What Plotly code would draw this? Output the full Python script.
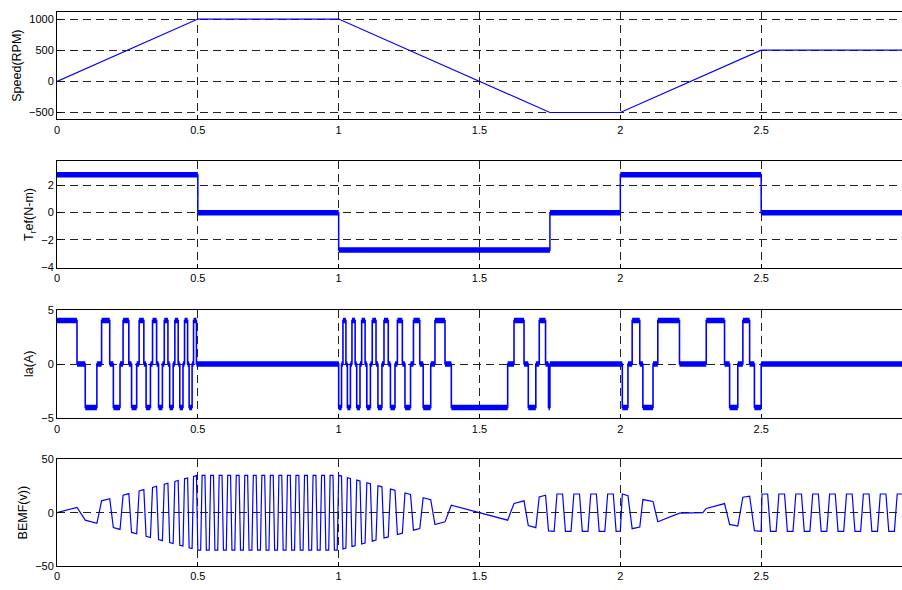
import plotly.graph_objects as go

# ---------------- data ----------------
speed_t = [0, 0.5, 1.0, 1.75, 2.0, 2.5, 3.0]
speed_rpm = [0, 1000, 1000, -500, -500, 500, 500]

torque_t = [0, 0.5, 1.0, 1.75, 2.0, 2.5, 3.0]
torque_lvl = [2.8, 0.0, -2.75, 0.0, 2.8, 0.0]

ia_t = [0.0, 0.0710, 0.1003, 0.1416, 0.1583, 0.1872, 0.2001, 0.2237,
        0.2346, 0.2550, 0.2647, 0.2829, 0.2916, 0.3083, 0.3163, 0.3317,
        0.3392, 0.3536, 0.3606, 0.3742, 0.3809, 0.3938, 0.4001, 0.4124,
        0.4184, 0.4302, 0.4359, 0.4473, 0.4528, 0.4637, 0.4691, 0.4796,
        0.4848, 0.4950,
        1.0000, 1.0101, 1.0152, 1.0257, 1.0310, 1.0417, 1.0472, 1.0584,
        1.0641, 1.0757, 1.0817, 1.0938, 1.1000, 1.1127, 1.1192, 1.1326,
        1.1394, 1.1536, 1.1609, 1.1760, 1.1838, 1.2000, 1.2085, 1.2261,
        1.2354, 1.2551, 1.2655, 1.2879, 1.3000, 1.3268, 1.3419, 1.3775,
        1.4000, 1.6000, 1.6225, 1.6581, 1.6732, 1.7000, 1.7121, 1.7345,
        1.7450, 1.7500,
        2.0070, 2.0270, 2.0420, 2.0690, 2.0800, 2.1160, 2.1330, 2.2100,
        2.3050, 2.3700, 2.3880, 2.4170, 2.4350, 2.4590, 2.4760, 2.5000,
        3.0]
ia_lvl = [4, 0, -4, 0, 4, 0, -4, 0,
          4, 0, -4, 0, 4, 0, -4, 0,
          4, 0, -4, 0, 4, 0, -4, 0,
          4, 0, -4, 0, 4, 0, -4, 0,
          4, 0,
          -4, 0, 4, 0, -4, 0, 4, 0,
          -4, 0, 4, 0, -4, 0, 4, 0,
          -4, 0, 4, 0, -4, 0, 4, 0,
          -4, 0, 4, 0, -4, 0, 4, 0,
          -4, 0, 4, 0, -4, 0, 4, 0,
          -4, 0,
          -4, 0, 4, 0, -4, 0, 4, 0,
          4, 0, -4, 0, 4, 0, -4, 0]

bemf_t = [0.0, 0.0710, 0.1003, 0.1416, 0.1583, 0.1872, 0.2001, 0.2237,
          0.2346, 0.2550, 0.2647, 0.2829, 0.2916, 0.3083, 0.3163, 0.3317,
          0.3392, 0.3536, 0.3606, 0.3742, 0.3809, 0.3938, 0.4001, 0.4124,
          0.4184, 0.4302, 0.4359, 0.4473, 0.4528, 0.4637, 0.4691, 0.4796,
          0.4848, 0.4950,
          0.5000, 0.5101, 0.5152, 0.5253, 0.5303, 0.5404, 0.5455, 0.5556,
          0.5606, 0.5707, 0.5758, 0.5859, 0.5909, 0.6010, 0.6061, 0.6162,
          0.6212, 0.6313, 0.6364, 0.6465, 0.6515, 0.6616, 0.6667, 0.6768,
          0.6818, 0.6919, 0.6970, 0.7071, 0.7121, 0.7222, 0.7273, 0.7374,
          0.7424, 0.7525, 0.7576, 0.7677, 0.7727, 0.7828, 0.7879, 0.7980,
          0.8030, 0.8131, 0.8182, 0.8283, 0.8333, 0.8434, 0.8485, 0.8586,
          0.8636, 0.8737, 0.8788, 0.8889, 0.8939, 0.9040, 0.9091, 0.9192,
          0.9242, 0.9343, 0.9394, 0.9495, 0.9545, 0.9646, 0.9697, 0.9798,
          0.9848, 0.9949,
          1.0000, 1.0101, 1.0152, 1.0257, 1.0310, 1.0417, 1.0472, 1.0584,
          1.0641, 1.0757, 1.0817, 1.0938, 1.1000, 1.1127, 1.1192, 1.1326,
          1.1394, 1.1536, 1.1609, 1.1760, 1.1838, 1.2000, 1.2085, 1.2261,
          1.2354, 1.2551, 1.2655, 1.2879, 1.3000, 1.3268, 1.3419, 1.3775,
          1.4000, 1.6000, 1.6225, 1.6581, 1.6732, 1.7000, 1.7121, 1.7345,
          1.7450,
          1.7650, 1.7750, 1.7950, 1.8050, 1.8250, 1.8350, 1.8550, 1.8650,
          1.8850, 1.8950, 1.9150, 1.9250, 1.9450, 1.9550, 1.9750, 1.9850,
          2.0000, 2.0070, 2.0270, 2.0420, 2.0690, 2.0800, 2.1160, 2.1330,
          2.2100, 2.2930, 2.3050, 2.3700, 2.3880, 2.4170, 2.4350, 2.4590,
          2.4760, 2.5000,
          2.503, 2.523, 2.533, 2.553, 2.563, 2.583, 2.593, 2.613,
          2.623, 2.643, 2.653, 2.673, 2.683, 2.703, 2.713, 2.733,
          2.743, 2.763, 2.773, 2.793, 2.803, 2.823, 2.833, 2.853,
          2.863, 2.883, 2.893, 2.913, 2.923, 2.943, 2.953, 2.973,
          2.983, 3.000]
bemf_v = [0.0, 5.0, -7.0, -9.9, 11.1, 13.1, -14.0, -15.7,
          16.4, 17.9, -18.5, -19.8, 20.4, 21.6, -22.1, -23.2,
          23.7, 24.8, -25.2, -26.2, 26.7, 27.6, -28.0, -28.9,
          29.3, 30.1, -30.5, -31.3, 31.7, 32.5, -32.8, -33.6,
          33.9, 34.7,
          -35, -35, 35, 35, -35, -35, 35, 35,
          -35, -35, 35, 35, -35, -35, 35, 35,
          -35, -35, 35, 35, -35, -35, 35, 35,
          -35, -35, 35, 35, -35, -35, 35, 35,
          -35, -35, 35, 35, -35, -35, 35, 35,
          -35, -35, 35, 35, -35, -35, 35, 35,
          -35, -35, 35, 35, -35, -35, 35, 35,
          -35, -35, 35, 35, -35, -35, 35, 35,
          -35, -35,
          35.0, 34.3, -33.9, -33.2, 32.8, 32.1, -31.7, -30.9,
          30.5, 29.7, -29.3, -28.4, 28.0, 27.1, -26.7, -25.7,
          25.2, 24.2, -23.7, -22.7, 22.1, 21.0, -20.4, -19.2,
          18.5, 17.1, -16.4, -14.8, 14.0, 12.1, -11.1, -8.6,
          7.0, -7.0, 8.6, 11.1, -12.1, -14.0, 14.8, 16.4,
          -17.1,
          -17.5, 17.5, 17.5, -17.5, -17.5, 17.5, 17.5, -17.5,
          -17.5, 17.5, 17.5, -17.5, -17.5, 17.5, 17.5, -17.5,
          -17.3, 17.5, 16.0, -15.0, -13.5, 12.3, 10.5, -8.5,
          -0.5, 0.0, 4.0, 8.5, -11.0, -12.5, 14.5, 15.5,
          -16.8, -17.5,
          17.5, 17.5, -17.5, -17.5, 17.5, 17.5, -17.5, -17.5,
          17.5, 17.5, -17.5, -17.5, 17.5, 17.5, -17.5, -17.5,
          17.5, 17.5, -17.5, -17.5, 17.5, 17.5, -17.5, -17.5,
          17.5, 17.5, -17.5, -17.5, 17.5, 17.5, -17.5, -17.5,
          17.5, 17.5]

x_ticks = [0, 0.5, 1, 1.5, 2, 2.5]
x_tick_text = ["0", "0.5", "1", "1.5", "2", "2.5"]
y_titles = ["Speed(RPM)", "T<sub>r</sub>ef(N-m)", "Ia(A)", "BEMF(v))"]
y_ticks = [[-500, 0, 500, 1000], [-4, -2, 0, 2], [-5, 0, 5], [-50, 0, 50]]
y_ranges = [[-610, 1115], [-4.07, 3.8], [-5, 5], [-50, 50]]

# ---------------- helpers ----------------
BLUE = "#0000FF"


def step_xy(t, lvl):
    return list(t), list(lvl) + [lvl[-1]]


def band_xy(t, lvl):
    xs, ys = [], []
    for i, v in enumerate(lvl):
        xs += [t[i], t[i + 1], None]
        ys += [v, v, None]
    return xs, ys


W, H = 902, 590
panels_px = [(6, 115.7), (158.3, 267.3), (310, 421), (462.7, 571.7)]

fig = go.Figure()

# Speed
fig.add_trace(go.Scatter(x=speed_t, y=speed_rpm, mode="lines",
                         line=dict(color=BLUE, width=1.2), xaxis="x", yaxis="y"))
# Torque
sx, sy = step_xy(torque_t, torque_lvl)
fig.add_trace(go.Scatter(x=sx, y=sy, mode="lines", line_shape="hv",
                         line=dict(color=BLUE, width=1.5), xaxis="x2", yaxis="y2"))
bx, by = band_xy(torque_t, torque_lvl)
fig.add_trace(go.Scatter(x=bx, y=by, mode="lines",
                         line=dict(color=BLUE, width=5.5), xaxis="x2", yaxis="y2"))
# Current
sx, sy = step_xy(ia_t, ia_lvl)
fig.add_trace(go.Scatter(x=sx, y=sy, mode="lines", line_shape="hv",
                         line=dict(color=BLUE, width=1.6), xaxis="x3", yaxis="y3"))
bx, by = band_xy(ia_t, ia_lvl)
fig.add_trace(go.Scatter(x=bx, y=by, mode="lines",
                         line=dict(color=BLUE, width=5.5), xaxis="x3", yaxis="y3"))
# BEMF
fig.add_trace(go.Scatter(x=bemf_t, y=bemf_v, mode="lines",
                         line=dict(color=BLUE, width=1.2), xaxis="x4", yaxis="y4"))

FONT = "Liberation Sans, Arial, Helvetica, sans-serif"
GRID = dict(showgrid=True, gridcolor="#222222", gridwidth=1, griddash="8px,5px",
            zeroline=False)

layout = dict(width=W, height=H, margin=dict(l=57, r=0, t=0, b=0),
              paper_bgcolor="white", plot_bgcolor="white", showlegend=False,
              font=dict(family=FONT, color="black", size=11))

for i, (top, bot) in enumerate(panels_px):
    n = "" if i == 0 else str(i + 1)
    dom = [1 - bot / H, 1 - top / H]
    layout["xaxis" + n] = dict(
        domain=[0, 1], anchor="y" + n, range=[0, 3],
        tickvals=x_ticks, ticktext=x_tick_text,
        ticks="inside", ticklen=4, tickcolor="black",
        showline=True, linecolor="black", linewidth=1, mirror=True,
        tickfont=dict(size=11, family=FONT, color="black"), **GRID)
    layout["yaxis" + n] = dict(
        domain=dom, anchor="x" + n, range=y_ranges[i],
        tickvals=y_ticks[i], ticks="inside", ticklen=4, tickcolor="black",
        showline=True, linecolor="black", linewidth=1, mirror=False,
        tickfont=dict(size=11, family=FONT, color="black"),
        title=dict(text=y_titles[i], standoff=4,
                   font=dict(size=12.5, family=FONT, color="black")),
        **GRID)

fig.update_layout(**layout)
fig.write_html("out.html")
